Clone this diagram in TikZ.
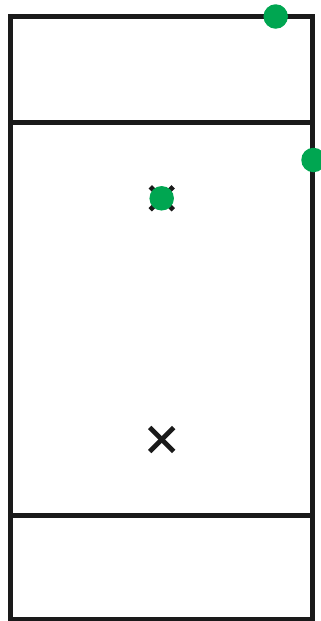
\documentclass[tikz,border=0pt]{standalone}
\definecolor{linec}{HTML}{1A1A1A}
\definecolor{dotc}{HTML}{00A651}
\begin{document}
\begin{tikzpicture}[x=1pt,y=-1pt,
  frame/.style={draw=linec,line width=5pt},
  cross/.style={draw=linec,line width=4.8pt},
  gdot/.style={circle,fill=dotc,inner sep=0pt,minimum size=24.5pt}]
\useasboundingbox (0,0) rectangle (321,621);
\draw[frame] (10.5,16.2) rectangle (312.8,619.3);
\coordinate (l1) at (10.5,122.5);
\coordinate (r1) at (312.8,122.5);
\coordinate (l2) at (10.5,515.5);
\coordinate (r2) at (312.8,515.5);
\draw[frame] (l1) -- (r1);
\draw[frame] (l2) -- (r2);
\coordinate (c1) at (161.7,198.3);
\coordinate (c2) at (161.7,439.5);
\draw[cross] ([shift={(-11.5,-11.5)}]c1) -- ([shift={(11.5,11.5)}]c1);
\draw[cross] ([shift={(-11.5,11.5)}]c1) -- ([shift={(11.5,-11.5)}]c1);
\draw[cross] ([shift={(-12,-12)}]c2) -- ([shift={(12,12)}]c2);
\draw[cross] ([shift={(-12,12)}]c2) -- ([shift={(12,-12)}]c2);
\node[gdot] (d1) at (c1) {};
\node[gdot] (d2) at (275.7,16.5) {};
\node[gdot] (d3) at (313.5,160) {};
\end{tikzpicture}
\end{document}
